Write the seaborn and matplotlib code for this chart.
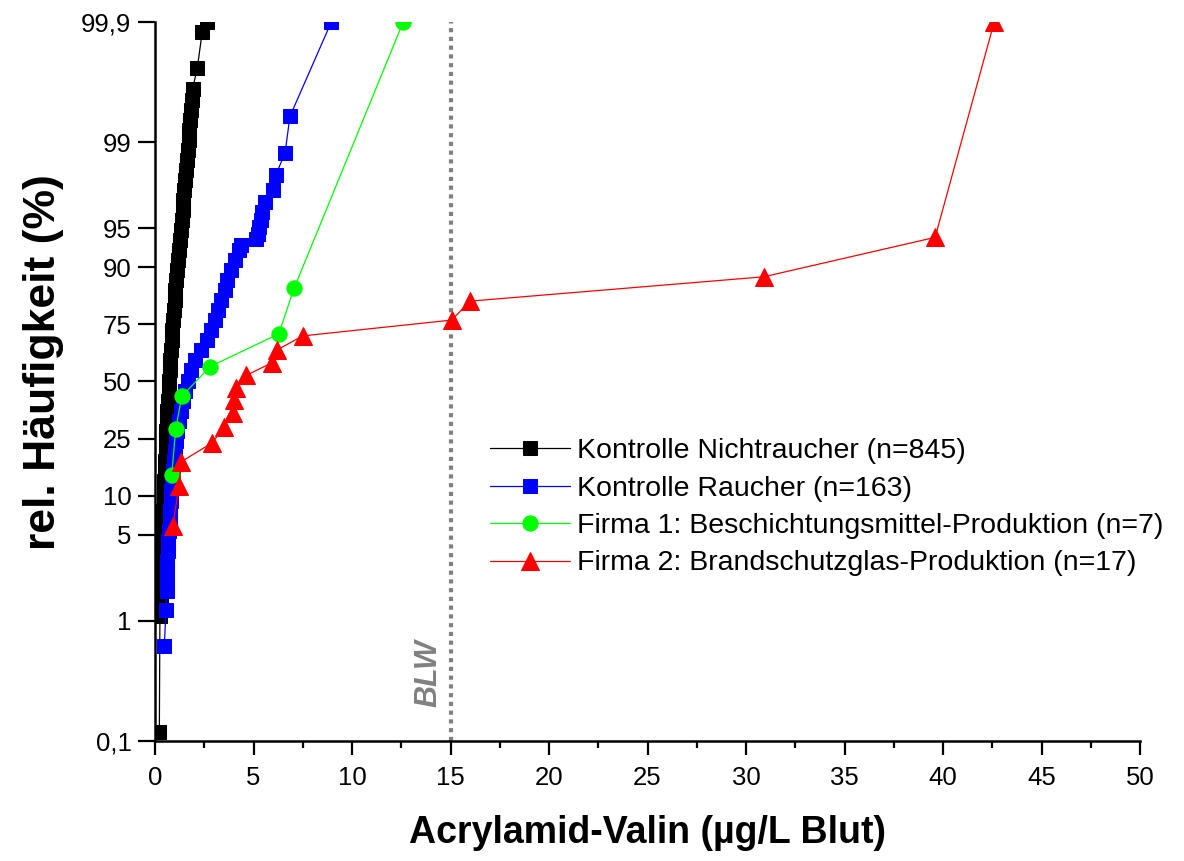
import numpy as np
import pandas as pd
import matplotlib
matplotlib.use("Agg")
import matplotlib.pyplot as plt
from matplotlib.ticker import FixedLocator, FuncFormatter, NullLocator, MultipleLocator
import seaborn as sns

# ---------------- data ----------------
# Kontrolle Nichtraucher (n=845): x in µg/L, cumulative frequency in %
nr_x = [0.22, 0.25, 0.29, 0.30, 0.31, 0.32, 0.33, 0.345, 0.36, 0.38, 0.40, 0.42, 0.44,
        0.46, 0.48, 0.50, 0.52, 0.535, 0.55, 0.58, 0.61, 0.63, 0.66, 0.69, 0.71, 0.74,
        0.77, 0.80, 0.84, 0.87, 0.91, 0.95, 0.99, 1.03, 1.07, 1.10, 1.15, 1.20, 1.26,
        1.31, 1.35, 1.40, 1.44, 1.48, 1.53, 1.58, 1.63, 1.67, 1.71, 1.74, 1.77, 1.81,
        1.86, 1.91, 2.15, 2.40, 2.62]
nr_p = [0.118, 1.1, 1.458, 1.761, 2.127, 2.567, 3.095, 3.727, 4.482, 5.382, 6.45, 7.713,
        9.198, 10.94, 12.96, 15.28, 17.95, 20.96, 24.32, 28.04, 32.08, 36.40, 40.96, 45.68,
        50.48, 55.27, 59.96, 64.48, 68.76, 72.74, 76.38, 79.67, 82.61, 85.21, 87.47, 89.43,
        91.12, 92.56, 93.78, 94.81, 95.68, 96.41, 97.02, 97.53, 97.95, 98.30, 98.60, 98.84,
        99.04, 99.21, 99.35, 99.46, 99.55, 99.64, 99.76, 99.88, 99.9]

# Kontrolle Raucher (n=163)
r_x = [0.47, 0.56, 0.59, 0.60, 0.61, 0.62, 0.64, 0.68, 0.71, 0.74, 0.77, 0.79, 0.82, 0.86,
       0.90, 0.95, 1.00, 1.06, 1.12, 1.20, 1.30, 1.40, 1.52, 1.66, 1.85, 2.02, 2.35, 2.62,
       2.85, 3.05, 3.20, 3.35, 3.55, 3.65, 3.85, 4.05, 4.25, 4.37, 5.15, 5.25, 5.30, 5.38,
       5.45, 5.58, 5.97, 6.14, 6.60, 6.85, 8.95]
r_p = [0.613, 1.227, 1.761, 2.127, 2.567, 3.095, 3.727, 4.482, 5.382, 6.45, 7.713, 9.198,
       10.94, 12.96, 15.28, 17.95, 20.96, 24.32, 28.04, 32.08, 36.40, 40.96, 45.68, 50.48,
       55.27, 59.96, 64.48, 68.76, 72.74, 76.38, 79.67, 82.61, 85.21, 87.47, 89.43, 91.12,
       92.56, 93.25, 93.87, 94.48, 95.09, 95.71, 96.32, 96.93, 97.55, 98.16, 98.77, 99.39,
       99.9]

# Firma 1: Beschichtungsmittel-Produktion (n=7)
f1_x = [0.85, 1.05, 1.36, 2.79, 6.28, 7.06, 12.6]
f1_p = [14.3, 28.6, 42.9, 57.1, 71.4, 85.7, 99.9]

# Firma 2: Brandschutzglas-Produktion (n=17)
f2_x = [0.90, 1.22, 1.32, 2.89, 3.52, 3.94, 4.03, 4.11, 4.62, 5.92, 6.19, 7.50,
        15.06, 15.99, 30.9, 39.6, 42.6]
f2_p = [5.9, 11.8, 17.6, 23.5, 29.4, 35.3, 41.2, 47.1, 52.9, 58.8, 64.7, 70.6,
        76.5, 82.4, 88.2, 94.1, 99.9]

labels = ["Kontrolle Nichtraucher (n=845)", "Kontrolle Raucher (n=163)",
          "Firma 1: Beschichtungsmittel-Produktion (n=7)",
          "Firma 2: Brandschutzglas-Produktion (n=17)"]
blw_value = 15
y_ticks_pct = [0.1, 1, 5, 10, 25, 50, 75, 90, 95, 99, 99.9]
x_ticks = [0, 5, 10, 15, 20, 25, 30, 35, 40, 45, 50]

# ---------------- style ----------------
sns.set_style("ticks")
plt.rcParams["font.family"] = ["Liberation Sans", "DejaVu Sans"]
plt.rcParams["text.color"] = "black"
plt.rcParams["axes.labelcolor"] = "black"
plt.rcParams["xtick.color"] = "black"
plt.rcParams["ytick.color"] = "black"

fig = plt.figure(figsize=(11.84, 8.61), dpi=100)
ax = fig.add_axes([155/1184, (861-741)/861, (1140-155)/1184, (741-22)/861])

series = [
    (nr_x, nr_p, "#000000", "s", 10),
    (r_x, r_p, "#0000FF", "s", 9.5),
    (f1_x, f1_p, "#00FF00", "o", 11),
    (f2_x, f2_p, "#FF0000", "^", 12.5),
]
for (xs, ps, col, mk, ms), lab in zip(series, labels):
    df = pd.DataFrame({"x": xs, "p": np.array(ps) / 100.0})
    sns.lineplot(data=df, x="x", y="p", ax=ax, sort=False, estimator=None,
                 color=col, lw=0.9, marker=mk, markersize=ms,
                 markeredgecolor=col, markerfacecolor=col, label=lab)

ax.set_yscale("logit")
ax.set_ylim(0.001, 0.999)
ax.set_xlim(0, 50)

# BLW line
ax.axvline(blw_value, color="#808080", lw=3.0, linestyle=(0, (1, 1.1)), zorder=1)
ax.text(13.9, 0.0037, "BLW", rotation=90, ha="center", va="center",
        fontsize=22, fontweight="bold", fontstyle="italic", color="#808080")

# ticks
ax.yaxis.set_major_locator(FixedLocator([v / 100 for v in y_ticks_pct]))
ax.yaxis.set_minor_locator(NullLocator())
ax.yaxis.set_major_formatter(FuncFormatter(
    lambda v, pos: (f"{v*100:.1f}".replace(".", ",") if abs(v*100 - round(v*100)) > 1e-6
                    else f"{int(round(v*100))}")))
ax.xaxis.set_major_locator(FixedLocator(x_ticks))
ax.xaxis.set_minor_locator(MultipleLocator(2.5))
ax.tick_params(axis="x", which="major", direction="out", length=10, width=1.6,
               labelsize=18.5, pad=8, colors="black")
ax.tick_params(axis="x", which="minor", direction="out", length=5, width=1.6)
ax.tick_params(axis="y", which="major", direction="out", length=12, width=1.6,
               labelsize=18.5, pad=5, colors="black")

for s in ["top", "right"]:
    ax.spines[s].set_visible(False)
for s in ["left", "bottom"]:
    ax.spines[s].set_linewidth(1.8)
    ax.spines[s].set_color("black")

ax.set_xlabel("Acrylamid-Valin (µg/L Blut)", fontsize=27, fontweight="bold", color="black")
ax.set_ylabel("rel. Häufigkeit (%)", fontsize=32, fontweight="bold", color="black")
ax.xaxis.set_label_coords(0.5, -0.103)
ax.yaxis.set_label_coords(-0.092, 0.527)

leg = ax.legend(loc="upper left", bbox_to_anchor=(0.34, 0.421), frameon=False,
                fontsize=20.5, handlelength=2.8, handletextpad=0.25, labelspacing=0.40,
                borderpad=0, borderaxespad=0, numpoints=1)
for t in leg.get_texts():
    t.set_color("black")

fig.savefig("out.png", dpi=100)
